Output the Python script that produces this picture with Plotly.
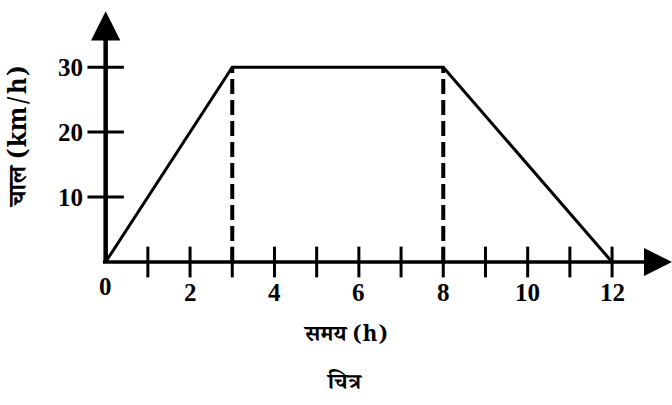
import plotly.graph_objects as go

# speed–time profile of the journey
time_h = [0, 3, 8, 12]
speed_kmh = [0, 30, 30, 0]

# times where the speed changes steadily -> dashed guides down to the time axis
guide_times = [3, 8]
guide_speed = 30

x_ticks = list(range(1, 13))
x_tick_labels = ["0", "2", "4", "6", "8", "10", "12"]
x_label_vals = [0, 2, 4, 6, 8, 10, 12]
y_ticks = [10, 20, 30]

x_title = "समय (h)"
y_title = "चाल (km/h)"
caption = "चित्र"

X_MAX, Y_MAX = 13.42, 38.6
serif = "Liberation Serif"
deva = "Noto Serif Devanagari, Noto Sans Devanagari, Lohit Devanagari, Mangal, serif"

L, T, B = 93, 10, 135
W, H = 672, 405
pw, ph = W - L, H - T - B


def px_to_paper(px, py):
    return (px - L) / pw, (H - B - py) / ph


fig = go.Figure()

# dashed guides
for t in guide_times:
    fig.add_trace(go.Scatter(
        x=[t, t], y=[0, guide_speed], mode="lines",
        line=dict(color="black", width=4, dash="15px,6px"),
        hoverinfo="skip", showlegend=False))

# speed graph
fig.add_trace(go.Scatter(
    x=time_h, y=speed_kmh, mode="lines",
    line=dict(color="black", width=3),
    hoverinfo="skip", showlegend=False))

# tick marks crossing the axes
fig.add_trace(go.Scatter(
    x=x_ticks, y=[0] * len(x_ticks), mode="markers",
    marker=dict(symbol="line-ns", size=22, line=dict(color="black", width=3)),
    cliponaxis=False, hoverinfo="skip", showlegend=False))
fig.add_trace(go.Scatter(
    x=[0] * len(y_ticks), y=y_ticks, mode="markers",
    marker=dict(symbol="line-ew", size=26, line=dict(color="black", width=3)),
    cliponaxis=False, hoverinfo="skip", showlegend=False))

# axes with arrowheads
fig.add_annotation(x=X_MAX, y=0, ax=-0.1, ay=0, axref="x", ayref="y",
                   xref="x", yref="y", text="", showarrow=True,
                   arrowhead=2, arrowsize=1.6, arrowwidth=3.5, arrowcolor="black")
fig.add_annotation(x=0, y=Y_MAX, ax=0, ay=-0.4, axref="x", ayref="y",
                   xref="x", yref="y", text="", showarrow=True,
                   arrowhead=2, arrowsize=1.3, arrowwidth=4.5, arrowcolor="black")

# axis numbers
for v, lab in zip(x_label_vals, x_tick_labels):
    fig.add_annotation(x=v, y=0, xref="x", yref="y", text=f"<b>{lab}</b>",
                       showarrow=False, yshift=-30 if v else -24,
                       font=dict(family=serif, size=25, color="black"))
for v in y_ticks:
    fig.add_annotation(x=0, y=v, xref="x", yref="y", text=f"<b>{v}</b>",
                       showarrow=False, xanchor="right", xshift=-21,
                       font=dict(family=serif, size=25, color="black"))

# titles
for text, (px, py), size, angle in [
    (x_title, (345, 338), 22, 0),
    (caption, (344, 386), 22, 0),
    (y_title, (22, 137), 25, -90),
]:
    xp, yp = px_to_paper(px, py)
    fig.add_annotation(x=xp, y=yp, xref="paper", yref="paper", text=f"<b>{text}</b>",
                       showarrow=False, textangle=angle,
                       xanchor="center", yanchor="middle",
                       font=dict(family=deva, size=size, color="black"))

fig.update_layout(
    width=W, height=H,
    margin=dict(l=L, r=0, t=T, b=B),
    paper_bgcolor="white", plot_bgcolor="white",
    xaxis=dict(range=[-0.3, X_MAX], visible=False),
    yaxis=dict(range=[-1.23, 38.8], visible=False),
)

fig.write_html("out.html")
